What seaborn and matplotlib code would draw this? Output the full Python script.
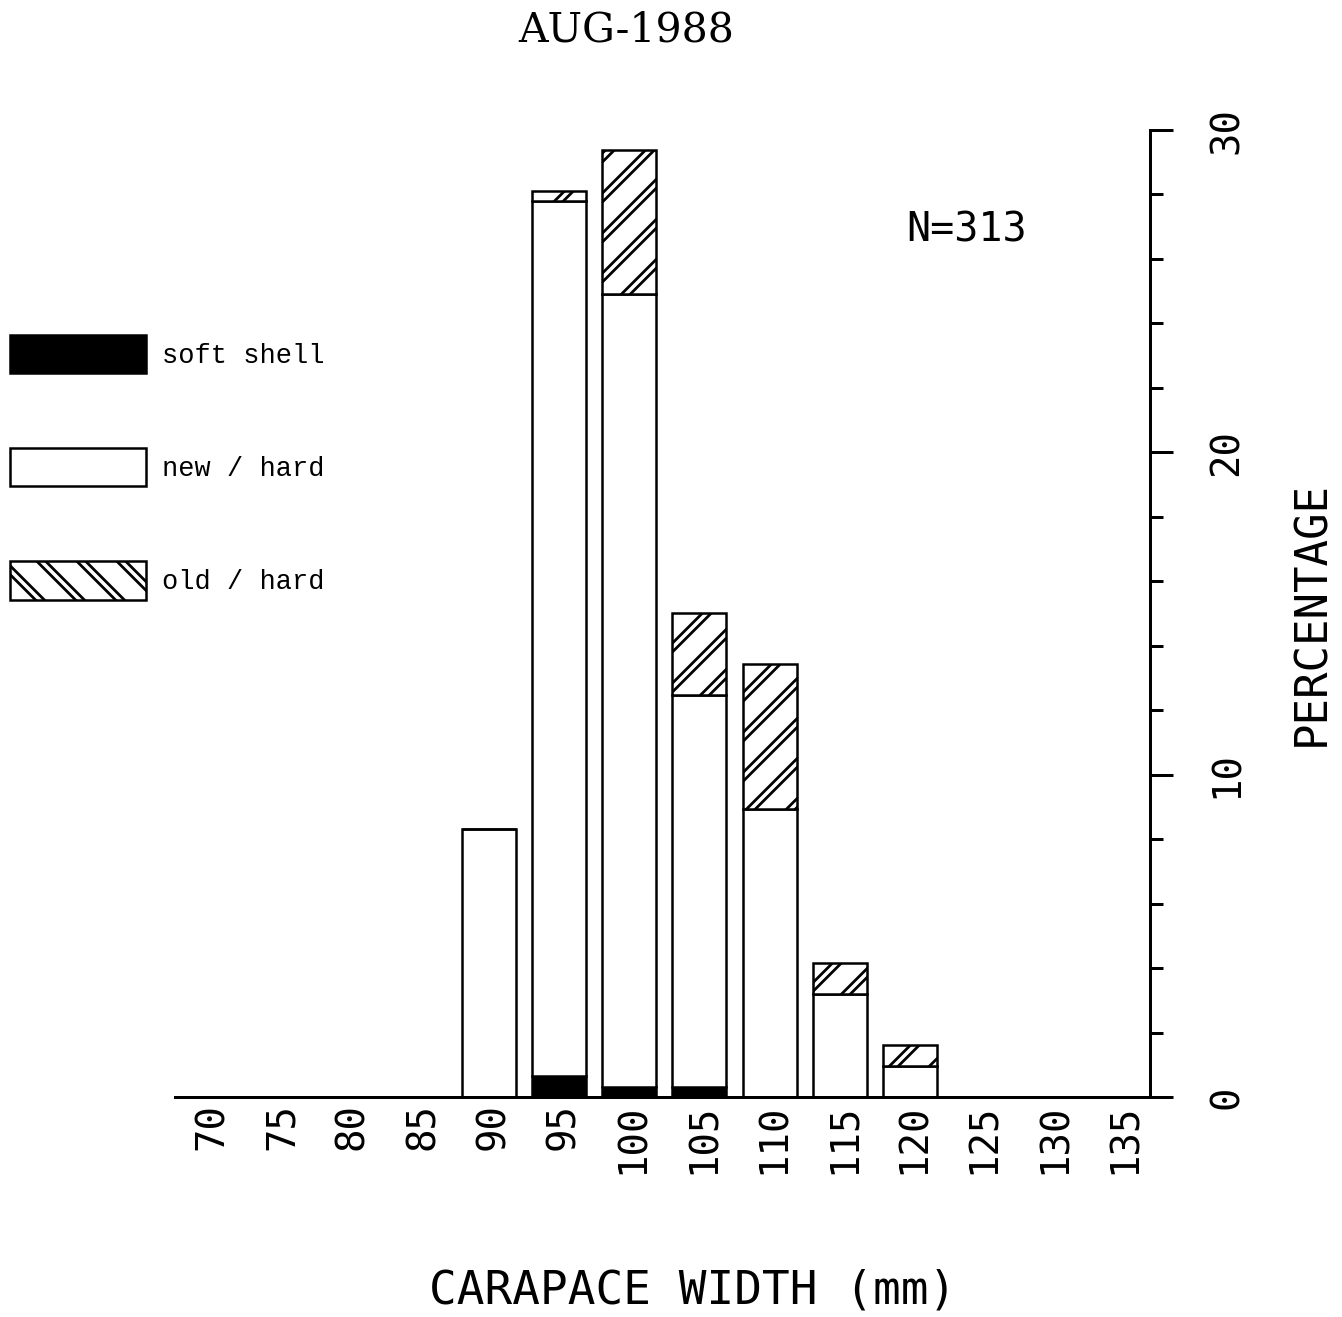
import matplotlib
matplotlib.use("Agg")
import matplotlib as mpl
import matplotlib.pyplot as plt
import numpy as np
import pandas as pd
import seaborn as sns
from matplotlib.colors import to_rgba
from matplotlib.patches import Patch
from matplotlib.legend_handler import HandlerTuple
from matplotlib.ticker import MultipleLocator
from matplotlib.transforms import ScaledTranslation

# Carapace width classes (mm) and percentage of the catch in each shell condition
widths_mm = [70, 75, 80, 85, 90, 95, 100, 105, 110, 115, 120, 125, 130, 135]
soft_shell = [0, 0, 0, 0, 0, 0.64, 0.32, 0.32, 0, 0, 0, 0, 0, 0]
new_hard = [0, 0, 0, 0, 8.31, 27.16, 24.60, 12.14, 8.95, 3.19, 0.96, 0, 0, 0]
old_hard = [0, 0, 0, 0, 0, 0.32, 4.47, 2.56, 4.47, 0.96, 0.64, 0, 0, 0]
legend_labels = ["soft shell", "new / hard", "old / hard"]
title_text = "AUG-1988"
sample_text = "N=313"

sns.set_style("white")
plt.rcParams.update({
    "text.color": "black",
    "axes.labelcolor": "black",
    "xtick.color": "black",
    "ytick.color": "black",
})
MONO = "DejaVu Sans Mono"
DPI = 240
W, H = 1342, 1317
PT = 72.0 / DPI  # points per pixel

df = pd.DataFrame({
    "width": widths_mm,
    "soft": soft_shell,
    "new": new_hard,
    "old": old_hard,
})
df["new_base"] = df["soft"]
df["old_base"] = df["soft"] + df["new"]

fig = plt.figure(figsize=(W / DPI, H / DPI), dpi=DPI)
ax = fig.add_axes([175 / W, 1 - 1097 / H, 975 / W, 967 / H])

bar_w = 0.77
edge_lw = 2.5 * PT
common = dict(data=df, x="width", order=widths_mm, width=bar_w, saturation=1,
              errorbar=None, ax=ax)

# soft shell: solid black
sns.barplot(y="soft", color="black", edgecolor="black", linewidth=edge_lw, **common)
# new / hard: white
sns.barplot(y="new", bottom=df["new_base"], color="white", edgecolor="black",
            linewidth=edge_lw, **common)

per_artist_hatch = hasattr(Patch, "set_hatch_linewidth")
THICK, THIN = 9 * PT, 3.5 * PT


def set_hatch_lw(patches, lw):
    if per_artist_hatch:
        for p in patches:
            p.set_hatch_linewidth(lw)


# old / hard: double-line diagonal hatching (thick black line, thin white core)
with mpl.rc_context({"hatch.linewidth": THICK}):
    sns.barplot(y="old", bottom=df["old_base"], color="white", edgecolor="black",
                linewidth=0, hatch="//", **common)
    set_hatch_lw(ax.containers[-1], THICK)
if per_artist_hatch:
    with mpl.rc_context({"hatch.linewidth": THIN}):
        sns.barplot(y="old", bottom=df["old_base"], color="white", facecolor="none",
                    edgecolor="white", linewidth=0, hatch="//", **common)
        set_hatch_lw(ax.containers[-1], THIN)
sns.barplot(y="old", bottom=df["old_base"], color="white", facecolor="none",
            edgecolor="black", linewidth=edge_lw, **common)

# axes frame: baseline at bottom, percentage scale on the right
ax.set_xlim(-0.47, 13.42)
ax.set_ylim(0, 30)
for side in ["left", "top"]:
    ax.spines[side].set_visible(False)
for side in ["bottom", "right"]:
    ax.spines[side].set_visible(True)
    ax.spines[side].set_linewidth(3 * PT)
    ax.spines[side].set_color("black")
ax.grid(False)

ax.set_xticks(np.arange(len(widths_mm)), labels=[str(w) for w in widths_mm])
ax.tick_params(axis="x", length=0, pad=6 * PT, labelsize=39 * PT,
               labelrotation=90, labelfontfamily=MONO, labelcolor="black")
for lab in ax.get_xticklabels():
    lab.set_transform(lab.get_transform() + ScaledTranslation(4 / DPI, 0, fig.dpi_scale_trans))

ax.yaxis.tick_right()
ax.set_yticks([0, 10, 20, 30])
ax.yaxis.set_minor_locator(MultipleLocator(2))
ax.tick_params(axis="y", which="major", direction="out", length=23 * PT,
               width=3 * PT, pad=35 * PT, labelsize=39 * PT, labelrotation=90,
               right=True, left=False, labelfontfamily=MONO, color="black",
               labelcolor="black")
ax.tick_params(axis="y", which="minor", direction="out", length=13 * PT,
               width=3 * PT, right=True, left=False, color="black")
plt.setp(ax.get_yticklabels(), va="center")

ax.set_xlabel("CARAPACE WIDTH (mm)", fontfamily=MONO, fontsize=46 * PT, color="black")
ax.xaxis.set_label_coords((693 - 175) / 975, (1097 - 1304) / 967)
ax.xaxis.label.set_va("baseline")

ax.set_ylabel("PERCENTAGE", fontfamily=MONO, fontsize=44 * PT, color="black")
ax.yaxis.set_label_position("right")
ax.yaxis.set_label_coords((1324 - 175) / 975, 0.5)
ax.yaxis.label.set_rotation_mode("anchor")
ax.yaxis.label.set_va("baseline")
ax.yaxis.label.set_ha("center")

ax.text((967 - 175) / 975, (1097 - 242) / 967, sample_text, transform=ax.transAxes,
        ha="center", va="baseline", fontfamily=MONO, fontsize=40 * PT, color="black")

fig.text(626 / W, 1 - 42 / H, title_text, ha="center", va="baseline",
         fontfamily="DejaVu Serif", fontsize=41 * PT, color="black")

# legend on the left
h_soft = Patch(facecolor="black", edgecolor="black", linewidth=edge_lw)
h_new = Patch(facecolor="white", edgecolor="black", linewidth=edge_lw)
h_old_a = Patch(facecolor="white", edgecolor="black", linewidth=0, hatch="\\\\")
h_old_c = Patch(facecolor="none", edgecolor="black", linewidth=edge_lw)
if per_artist_hatch:
    h_old_b = Patch(facecolor="none", edgecolor="white", linewidth=0, hatch="\\\\")
    h_old = (h_old_a, h_old_b, h_old_c)
else:
    h_old = (h_old_a, h_old_c)

leg_fs = 27 * PT
with mpl.rc_context({"hatch.linewidth": THICK}):
    leg = fig.legend([h_soft, h_new, h_old], legend_labels, loc="upper left",
                     bbox_to_anchor=(10 / W, 1 - 335 / H), bbox_transform=fig.transFigure,
                     frameon=False, prop={"family": "Liberation Mono", "size": leg_fs},
                     handlelength=136 / 27, handleheight=1.80, handletextpad=0.6,
                     labelspacing=75 / 27, borderpad=0, borderaxespad=0,
                     labelcolor="black",
                     handler_map={tuple: HandlerTuple(ndivide=1, pad=0)})

# hatch widths for the legend swatch copies
white = to_rgba("white")
for p in leg.findobj(Patch):
    if p.get_hatch():
        if per_artist_hatch:
            same_white = tuple(p.get_edgecolor()) == white
            p.set_hatch_linewidth(THIN if same_white else THICK)

fig.savefig("out.png", dpi=DPI)
